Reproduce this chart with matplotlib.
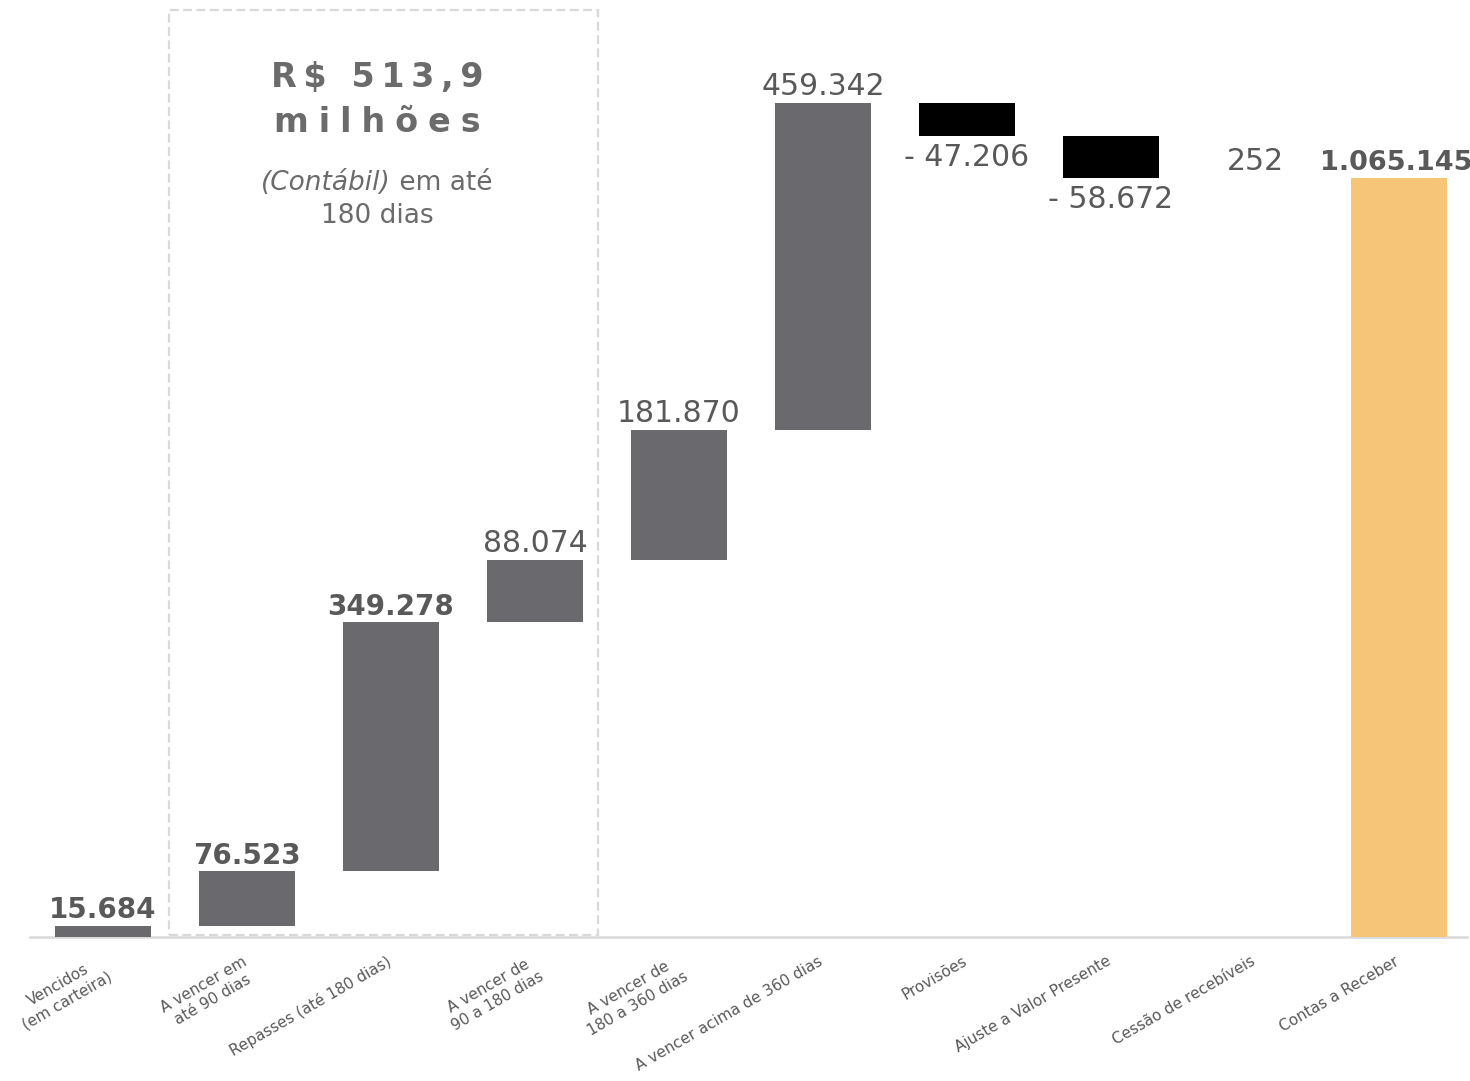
import matplotlib
matplotlib.use("Agg")
import matplotlib.pyplot as plt
from matplotlib.patches import Rectangle
from matplotlib.transforms import ScaledTranslation
import numpy as np

plt.rcParams['font.family'] = ['DejaVu Sans']

categories = ["Vencidos\n(em carteira)", "A vencer em\naté 90 dias", "Repasses (até 180 dias)",
              "A vencer de\n90 a 180 dias", "A vencer de\n180 a 360 dias", "A vencer acima de 360 dias",
              "Provisões", "Ajuste a Valor Presente", "Cessão de recebíveis", "Contas a Receber"]
values = [15684, 76523, 349278, 88074, 181870, 459342, -47206, -58672, 252, 1065145]
value_labels = ["15.684", "76.523", "349.278", "88.074", "181.870", "459.342",
                "- 47.206", "- 58.672", "252", "1.065.145"]
bold_labels = [True, True, True, False, False, False, False, False, False, True]
is_total = [False] * 9 + [True]

box_title = ["R$ 513,9", "milhões"]
box_sub_italic = "(Contábil)"
box_sub_rest = " em até"
box_sub_line2 = "180 dias"

GRAY = "#6a6a6e"
NEG = "#000000"
TOTAL = "#f6c577"
TXT = "#595959"

W, H = 1470, 1081
fig = plt.figure(figsize=(W / 100, H / 100), dpi=100)
ax = fig.add_axes([30 / W, (H - 937) / H, 1437 / W, 937 / H])

scale = 1065145 / 759.0
ax.set_xlim(-0.507, 9.472)
ax.set_ylim(0, 937 * scale)

cum = 0
for i, v in enumerate(values):
    if is_total[i]:
        bottom, height = 0, v
        color = TOTAL
        cum = v
    else:
        if v >= 0:
            bottom, height = cum, v
            color = GRAY
        else:
            bottom, height = cum + v, -v
            color = NEG
        cum += v
    ax.bar(i, height, bottom=bottom, width=0.667, color=color, zorder=3)
    fw = 'bold' if bold_labels[i] else 'normal'
    fs = 20 if bold_labels[i] else 21.5
    dx = 0
    if is_total[i]:
        fs = 19.5
        dx = -2
    if v >= 0 or is_total[i]:
        ax.annotate(value_labels[i], (i, bottom + height), xytext=(dx, 5.5), textcoords='offset points',
                    ha='center', va='baseline', fontsize=fs, fontweight=fw, color=TXT, zorder=4)
    else:
        ax.annotate(value_labels[i], (i, bottom), xytext=(0, -21.5), textcoords='offset points',
                    ha='center', va='baseline', fontsize=fs, fontweight=fw, color=TXT, zorder=4)

# dashed box
x0 = (169 - 103) / 144.0
x1 = (598 - 103) / 144.0
rect = Rectangle((x0, 2 * scale), x1 - x0, (927 - 2) * scale, fill=False,
                 edgecolor="#d9d9d9", linewidth=1.6, linestyle=(0, (4, 2)), clip_on=False, zorder=2)
ax.add_patch(rect)

# box texts
cx = 377 / W
def spaced(s, sep):
    return sep.join(list(s))
fig.text(cx, 1 - 77 / H, spaced(box_title[0], "\u2009"), ha='center', va='center', fontsize=24,
         fontweight='bold', color="#6b6b6b")
fig.text(cx, 1 - 122 / H, spaced(box_title[1], "\u2009\u200a"), ha='center', va='center', fontsize=24,
         fontweight='bold', color="#6b6b6b")
t1 = fig.text(0, 1 - 183 / H, box_sub_italic, ha='left', va='center', fontsize=19,
              style='italic', color="#6b6b6b")
t2 = fig.text(0, 1 - 183 / H, box_sub_rest, ha='left', va='center', fontsize=19, color="#6b6b6b")
fig.canvas.draw()
r = fig.canvas.get_renderer()
w1 = t1.get_window_extent(r).width
w2 = t2.get_window_extent(r).width
start = 377 - (w1 + w2) / 2
t1.set_x(start / W)
t2.set_x((start + w1) / W)
fig.text(cx, 1 - 216 / H, box_sub_line2, ha='center', va='center', fontsize=19, color="#6b6b6b")

for s in ['top', 'right', 'left']:
    ax.spines[s].set_visible(False)
ax.spines['bottom'].set_color("#d9d9d9")
ax.spines['bottom'].set_linewidth(1.8)
ax.set_yticks([])
ax.set_xticks(range(len(categories)))
ax.set_xticklabels(categories, rotation=30, ha='right', rotation_mode='anchor',
                   fontsize=11, color=TXT, multialignment='center')
ax.tick_params(axis='x', length=0, pad=12)
shift = ScaledTranslation(-5 / 100, 0, fig.dpi_scale_trans)
for lbl in ax.get_xticklabels():
    lbl.set_transform(lbl.get_transform() + shift)
ax.set_facecolor('white')

fig.savefig("out.png", dpi=100, facecolor='white')
